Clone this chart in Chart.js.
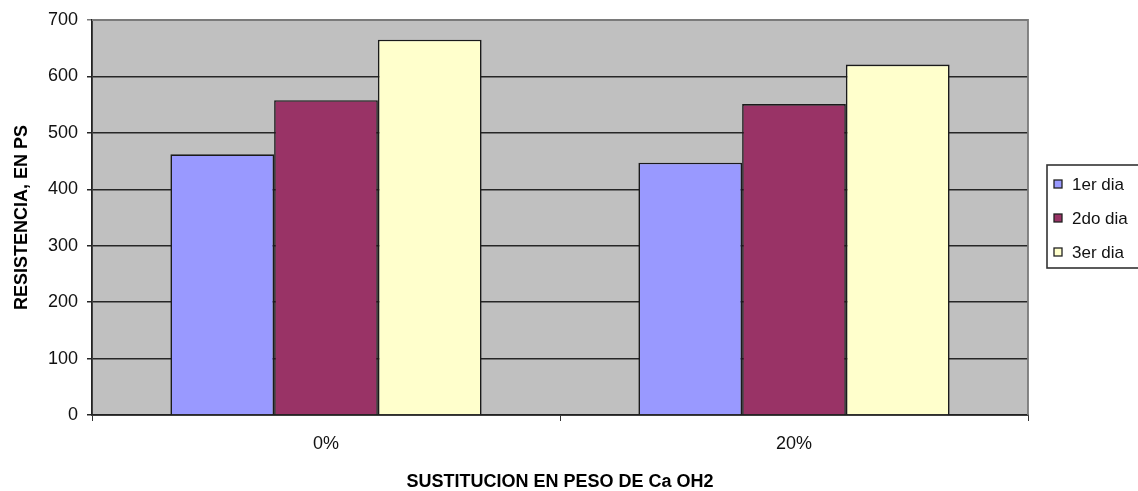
<!DOCTYPE html>
<html>
<head>
<meta charset="utf-8">
<script src="https://cdn.jsdelivr.net/npm/chart.js@4"></script>
<style>
  html, body { margin: 0; padding: 0; background: #fff; overflow: hidden; }
  #wrap { width: 1138px; height: 491px; position: relative; }
</style>
</head>
<body>
<div id="wrap"><canvas id="c" width="1138" height="491"></canvas></div>
<script>
// Compressive strength by Ca(OH)2 replacement and curing day
const categories = ['0%', '20%'];
const seriesNames = ['1er dia', '2do dia', '3er dia'];
const dia1 = [462, 447];
const dia2 = [558, 551];
const dia3 = [665, 621];
const seriesColors = ['#9999ff', '#993366', '#ffffcc'];
const yTicks = [0, 100, 200, 300, 400, 500, 600, 700];

const FONT = "'Liberation Sans', Arial, sans-serif";
const INK = '#111';

// Gray plot background with a light frame on top/right
const plotFrame = {
  id: 'plotFrame',
  beforeDraw(chart) {
    const { ctx, chartArea: a } = chart;
    ctx.save();
    ctx.fillStyle = '#c0c0c0';
    ctx.fillRect(a.left, a.top, a.right - a.left, a.bottom - a.top);
    ctx.restore();
  },
  afterDatasetsDraw(chart) {
    const { ctx, chartArea: a } = chart;
    ctx.save();
    ctx.strokeStyle = '#7a7a7a';
    ctx.lineWidth = 1.8;
    ctx.beginPath();
    ctx.moveTo(a.left, a.top);
    ctx.lineTo(a.right, a.top);
    ctx.lineTo(a.right, a.bottom);
    ctx.stroke();
    ctx.restore();
  }
};

// Boxed legend at the right side
const boxLegend = {
  id: 'boxLegend',
  afterDraw(chart) {
    const { ctx } = chart;
    const x0 = 1047, y0 = 165, y1 = 268;
    ctx.save();
    ctx.fillStyle = '#ffffff';
    ctx.fillRect(x0, y0, 120, y1 - y0);
    ctx.strokeStyle = '#333';
    ctx.lineWidth = 1.6;
    ctx.strokeRect(x0, y0, 120, y1 - y0);
    ctx.font = '17px ' + FONT;
    ctx.textBaseline = 'middle';
    chart.data.datasets.forEach((ds, i) => {
      const cy = 184 + i * 34;
      ctx.fillStyle = ds.backgroundColor;
      ctx.fillRect(1054, cy - 4, 8, 8);
      ctx.strokeStyle = '#222';
      ctx.lineWidth = 1.3;
      ctx.strokeRect(1054, cy - 4, 8, 8);
      ctx.fillStyle = INK;
      ctx.fillText(ds.label, 1072, cy + 1);
    });
    ctx.restore();
  }
};

const seriesData = [dia1, dia2, dia3];

new Chart(document.getElementById('c'), {
  type: 'bar',
  data: {
    labels: categories,
    datasets: seriesNames.map((name, i) => ({
      label: name,
      data: seriesData[i],
      backgroundColor: seriesColors[i],
      borderColor: '#1a1a1a',
      borderWidth: 1.6,
      categoryPercentage: 0.665,
      barPercentage: 1.0
    }))
  },
  options: {
    responsive: false,
    animation: false,
    layout: { padding: { left: 0, right: 110, top: 20, bottom: 0 } },
    plugins: {
      legend: { display: false },
      tooltip: { enabled: false }
    },
    scales: {
      x: {
        grid: {
          offset: true,
          drawOnChartArea: false,
          drawTicks: true,
          tickLength: 6,
          color: '#333'
        },
        border: { color: '#222', width: 1.8 },
        ticks: {
          color: INK,
          font: { family: FONT, size: 18 },
          padding: 12
        },
        title: {
          display: true,
          text: 'SUSTITUCION EN PESO DE Ca OH2',
          color: '#000',
          font: { family: FONT, size: 18, weight: 'bold', lineHeight: 1.0 },
          padding: { top: 0, bottom: 0 }
        },
        afterFit(scale) { scale.height = 76; }
      },
      y: {
        min: 0,
        max: 700,
        afterBuildTicks(scale) { scale.ticks = yTicks.map(v => ({ value: v })); },
        grid: {
          color: ctx => (ctx.tick && ctx.tick.value === 700) ? '#7a7a7a' : '#262626',
          lineWidth: 1.5,
          tickLength: 5,
          drawTicks: true
        },
        border: { color: '#222', width: 1.8 },
        ticks: {
          color: INK,
          font: { family: FONT, size: 18 },
          padding: 9
        },
        title: {
          display: true,
          text: 'RESISTENCIA, EN PS',
          color: '#000',
          font: { family: FONT, size: 18, weight: 'bold' },
          padding: { top: 11, bottom: 0 }
        },
        afterFit(scale) { scale.width = 92; }
      }
    }
  },
  plugins: [plotFrame, boxLegend]
});
</script>
</body>
</html>
